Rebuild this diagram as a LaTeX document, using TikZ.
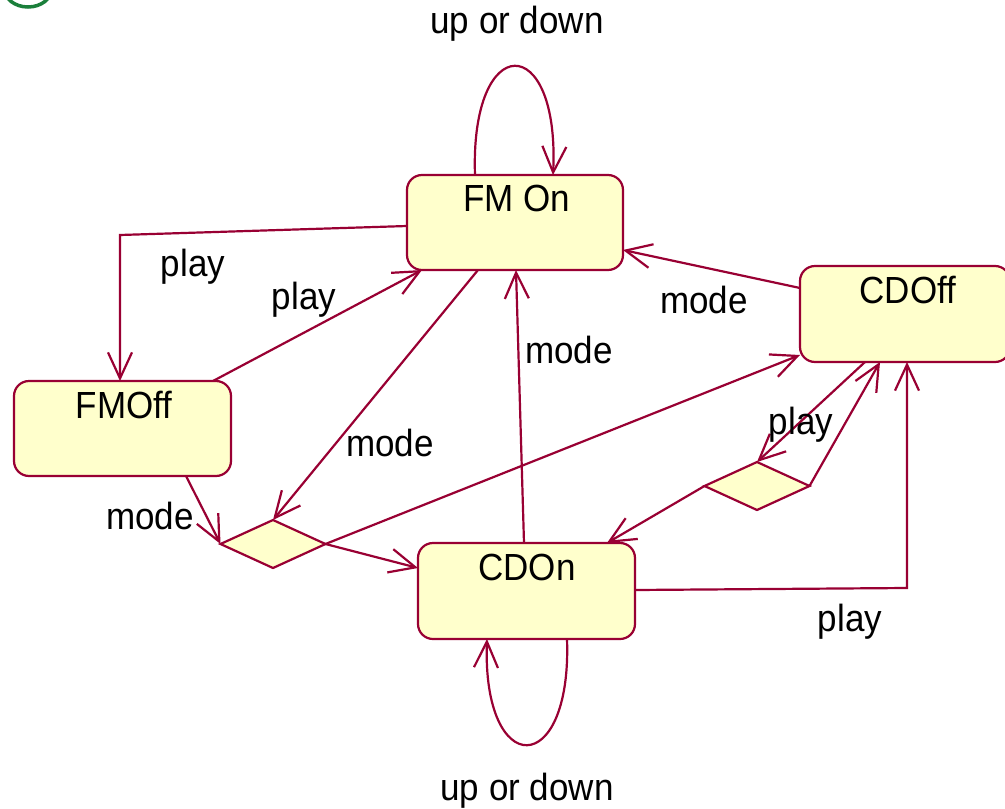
\documentclass[tikz,border=0pt]{standalone}
\usepackage{fontspec}
\setmainfont{Liberation Sans}
\usetikzlibrary{arrows.meta,calc,shapes.geometric}
\definecolor{edgec}{HTML}{990033}
\definecolor{fillc}{HTML}{FFFFCC}
\definecolor{greenc}{HTML}{1B7F3B}
\newcommand{\lbl}[1]{\scalebox{1}[1.08]{#1}}
\tikzset{
  statebox/.style={draw=edgec, fill=fillc, line width=2.2pt, rounded corners=15pt,
    inner sep=0pt, outer sep=0pt, anchor=north west},
  choice/.style={diamond, draw=edgec, fill=fillc, line width=2.2pt, inner sep=0pt,
    outer sep=0pt, minimum width=105pt, minimum height=48pt},
  conn/.style={draw=edgec, line width=2.2pt,
    -{Straight Barb[length=26pt,width=24pt,line width=2.2pt]}},
  txt/.style={font=\fontsize{35}{40}\selectfont, inner sep=0pt, text=black},
}
\begin{document}
\begin{tikzpicture}[x=1pt,y=-1pt]
\path[use as bounding box, clip] (0,0) rectangle (1005,809);
\fill[white] (0,0) rectangle (1005,809);
% green fragment top-left
\draw[greenc, line width=3.5pt] (28,-12) ellipse [x radius=24, y radius=19];

% states
\node[statebox, minimum width=216pt, minimum height=95pt] (fmon) at (407,175) {};
\node[statebox, minimum width=217pt, minimum height=95pt] (fmoff) at (14,381) {};
\node[statebox, minimum width=210pt, minimum height=96pt] (cdoff) at (800,266) {};
\node[statebox, minimum width=217pt, minimum height=96pt] (cdon) at (418,543) {};
\node[txt] (fmont) at (517,198) {\lbl{FM On}};
\node[txt] (fmofft) at (124,405) {\lbl{FMOff}};
\node[txt] (cdofft) at (908,290) {\lbl{CDOff}};
\node[txt] (cdont) at (527,567) {\lbl{CDOn}};

% choice points
\node[choice] (d1) at (273,544) {};
\node[choice] (d2) at (757,486) {};

% transitions
\draw[conn] ($(fmon.north west)+(68,0)$) .. controls (470,30) and (560,30) .. ($(fmon.north west)+(146,0)$);
\draw[conn] ($(fmon.north west)+(0,51)$) -- ($(fmoff.north west)+(106,-146)$) -- ($(fmoff.north west)+(106,0)$);
\draw[conn] ($(fmoff.north west)+(199,0)$) -- ($(fmon.south west)+(15,0)$);
\draw[conn] ($(fmon.south west)+(71,0)$) -- (d1.north);
\draw[conn] ($(fmoff.south west)+(172,0)$) -- (d1.west);
\draw[conn] (d1.east) -- ($(cdon.north west)+(0,25)$);
\draw[conn] (d1.east) -- ($(cdoff.south west)+(0,-7)$);
\draw[conn] ($(cdon.north west)+(106,0)$) -- ($(fmon.south west)+(109,0)$);
\draw[conn] ($(cdoff.north west)+(0,22)$) -- ($(fmon.south east)+(0,-20)$);
\draw[conn] ($(cdoff.south west)+(65,0)$) -- (d2.north);
\draw[conn] (d2.east) -- ($(cdoff.south west)+(80,0)$);
\draw[conn] (d2.west) -- ($(cdon.north west)+(189,0)$);
\draw[conn] ($(cdon.north east)+(0,47)$) -- ($(cdoff.south west)+(107,226)$) -- ($(cdoff.south west)+(107,0)$);
\draw[conn] ($(cdon.south west)+(149,0)$) .. controls (572,780) and (482,780) .. ($(cdon.south west)+(69,0)$);

% labels
\node[txt] (l1) at (517,24) {\lbl{up or down}};
\node[txt] (l2) at (193,267) {\lbl{play}};
\node[txt] (l3) at (304,300) {\lbl{play}};
\node[txt] (l4) at (390,443) {\lbl{mode}};
\node[txt] (l5) at (150,516) {\lbl{mode}};
\node[txt] (l6) at (569,350) {\lbl{mode}};
\node[txt] (l7) at (704,300) {\lbl{mode}};
\node[txt] (l8) at (801,425) {\lbl{play}};
\node[txt] (l9) at (850,622) {\lbl{play}};
\node[txt] (l10) at (527,791) {\lbl{up or down}};
\end{tikzpicture}
\end{document}
